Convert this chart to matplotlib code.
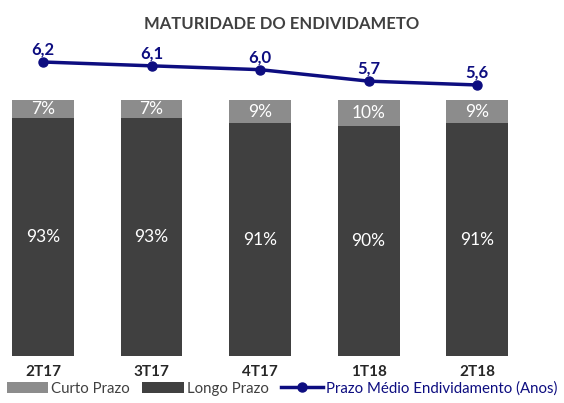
import numpy as np
import matplotlib.pyplot as plt

plt.rcParams['font.family'] = ['Lato', 'DejaVu Sans']

categories = ['2T17', '3T17', '4T17', '1T18', '2T18']
curto = [7, 7, 9, 10, 9]
longo = [93, 93, 91, 90, 91]
prazo_medio = [6.2, 6.1, 6.0, 5.7, 5.6]
prazo_labels = ['6,2', '6,1', '6,0', '5,7', '5,6']

c_curto = '#8c8c8c'
c_longo = '#404040'
c_line = '#0d0d80'

fig = plt.figure(figsize=(5.64, 4.03), dpi=100)
ax = fig.add_axes([0, 0.1166, 1, 0.759])
x = np.arange(len(categories))

ax.bar(x, longo, width=0.57, color=c_longo, label='Longo Prazo')
ax.bar(x, curto, width=0.57, bottom=longo, color=c_curto, label='Curto Prazo')
for i in range(len(x)):
    ax.text(x[i], longo[i] / 2, f'{longo[i]}%', ha='center', va='center',
            color='white', fontsize=12.5)
    ax.text(x[i], longo[i] + curto[i] / 2, f'{curto[i]}%', ha='center', va='center',
            color='white', fontsize=12.5)

ax.set_xlim(-0.396, 4.80)
ax.set_ylim(0, 119.5)
ax.axis('off')
for i, c in enumerate(categories):
    ax.text(x[i], -3.5, c, ha='center', va='top', fontsize=11,
            fontweight='bold', color='#262626')

ax2 = ax.twinx()
ax2.plot(x, prazo_medio, color=c_line, lw=2.5, marker='o', ms=6.5,
         label='Prazo Médio Endividamento (Anos)')
ax2.set_ylim(-1.48, 6.51)
ax2.axis('off')
for i in range(len(x)):
    ax2.text(x[i], prazo_medio[i] + 0.12, prazo_labels[i], ha='center',
             va='bottom', fontsize=12, fontweight='bold', color=c_line)

fig.text(0.5, 0.94, 'MATURIDADE DO ENDIVIDAMETO', ha='center', va='center',
         fontsize=12, fontweight='bold', color='#404040')

h1, l1 = ax.get_legend_handles_labels()
h2, l2 = ax2.get_legend_handles_labels()
leg = fig.legend([h1[1], h1[0], h2[0]], [l1[1], l1[0], l2[0]], loc='lower center',
                 bbox_to_anchor=(0.5, -0.015), ncol=3, frameon=False, fontsize=10.8,
                 handlelength=2.8, handletextpad=0.2, columnspacing=0.8)
for t in leg.get_texts()[:2]:
    t.set_color('#404040')
leg.get_texts()[2].set_color(c_line)

fig.savefig('out.png', dpi=100)
